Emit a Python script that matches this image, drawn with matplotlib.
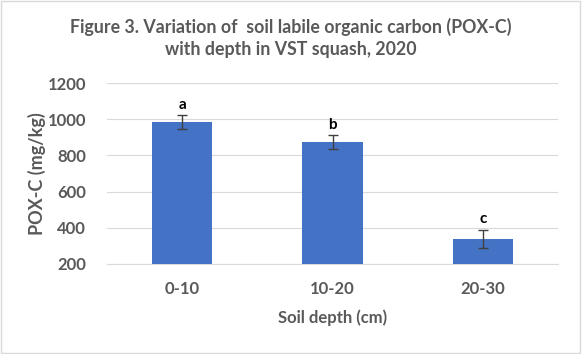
import numpy as np
import matplotlib.pyplot as plt

depths = ["0-10", "10-20", "20-30"]
pox_c = [984, 874, 338]
pox_err = [37, 38, 52]
letters = ["a", "b", "c"]

plt.rcParams["font.family"] = ["Lato", "DejaVu Sans"]
grey = "#595959"

fig = plt.figure(figsize=(5.82, 3.54), dpi=100)
ax = fig.add_axes([107 / 582, 1 - 264 / 354, (558 - 107) / 582, (264 - 83) / 354])

x = np.arange(len(depths))
ax.bar(x, pox_c, width=0.4, color="#4472C4", zorder=3)
ax.errorbar(x, pox_c, yerr=pox_err, fmt="none", ecolor="#404040",
            elinewidth=1, capsize=3.5, capthick=1, zorder=4)
for xi, v, e, lab in zip(x, pox_c, pox_err, letters):
    ax.text(xi, v + e + 18, lab, ha="center", va="bottom",
            fontsize=11, fontweight="bold", color="black")

ax.set_xlim(-0.5, 2.5)
ax.set_ylim(200, 1200)
ax.set_yticks(range(200, 1201, 200))
ax.set_xticks(x)
ax.set_xticklabels(depths)
ax.yaxis.grid(True, color="#d9d9d9", linewidth=0.8, zorder=0)
for s in ["top", "right", "left"]:
    ax.spines[s].set_visible(False)
ax.spines["bottom"].set_color("#d9d9d9")
ax.tick_params(axis="both", length=0, colors=grey, labelsize=12)
for t in ax.get_xticklabels() + ax.get_yticklabels():
    t.set_fontweight("bold")
ax.tick_params(axis="y", pad=15)
ax.tick_params(axis="x", pad=12)

ax.set_xlabel("Soil depth (cm)", fontsize=12, fontweight="bold", color=grey, labelpad=9)
ax.set_ylabel("POX-C (mg/kg)", fontsize=13, fontweight="bold", color=grey, labelpad=1)

fig.text(0.5, 0.893, "Figure 3. Variation of  soil labile organic carbon (POX-C)\nwith depth in VST squash, 2020",
         ha="center", va="center", fontsize=12.8, fontweight="bold", color=grey,
         linespacing=1.3)

fig.patches.append(plt.Rectangle((0.002, 0.003), 0.995, 0.993, transform=fig.transFigure,
                                 fill=False, edgecolor="#d9d9d9", linewidth=1))

fig.savefig("out.png", dpi=100)
